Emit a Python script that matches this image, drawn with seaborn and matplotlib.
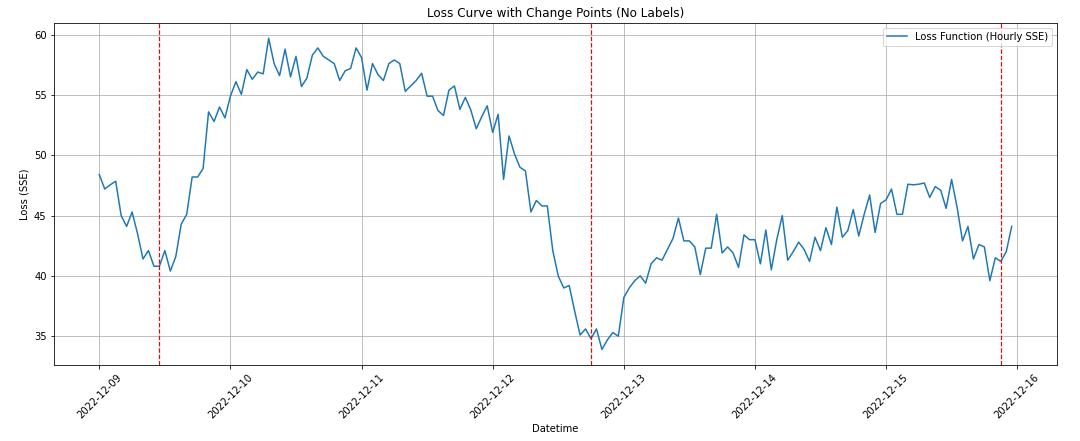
import pandas as pd
import matplotlib
matplotlib.use('Agg')
import matplotlib.pyplot as plt
import matplotlib.dates as mdates
import seaborn as sns

# Hourly loss values (2022-12-09 00:00 onward)
loss_values = [
    48.4, 47.2, 47.55, 47.85, 45.0, 44.1, 45.3, 43.5, 41.4, 42.1, 40.8, 40.8,
    42.1, 40.4, 41.6, 44.3, 45.1, 48.2, 48.2, 48.9, 53.6, 52.8, 54.0, 53.1,
    54.9, 56.1, 55.05, 57.1, 56.3, 56.9, 56.75, 59.7, 57.6, 56.6, 58.8, 56.5,
    58.2, 55.7, 56.4, 58.3, 58.9, 58.2, 57.9, 57.6, 56.2, 57.0, 57.2, 58.9,
    58.1, 55.4, 57.6, 56.7, 56.2, 57.6, 57.9, 57.6, 55.3, 55.75, 56.2, 56.8,
    54.9, 54.9, 53.7, 53.3, 55.4, 55.75, 53.8, 54.8, 53.75, 52.2, 53.2, 54.1,
    51.9, 53.4, 48.0, 51.6, 50.1, 49.0, 48.7, 45.3, 46.25, 45.8, 45.8, 42.1,
    40.0, 39.0, 39.2, 37.1, 35.1, 35.6, 34.8, 35.6, 33.9, 34.7, 35.3, 35.0,
    38.2, 39.0, 39.6, 40.0, 39.4, 41.0, 41.5, 41.3, 42.2, 43.1, 44.8, 42.9,
    42.9, 42.4, 40.1, 42.3, 42.3, 45.1, 41.9, 42.4, 41.9, 40.7, 43.4, 43.0,
    43.0, 41.0, 43.8, 40.5, 43.0, 45.0, 41.3, 42.0, 42.8, 42.2, 41.2, 43.2,
    42.1, 44.0, 42.6, 45.7, 43.2, 43.75, 45.5, 43.3, 45.1, 46.7, 43.6, 46.0,
    46.3, 47.2, 45.1, 45.1, 47.6, 47.55, 47.6, 47.7, 46.5, 47.4, 47.1, 45.6,
    48.0, 45.7, 42.9, 44.1, 41.4, 42.6, 42.4, 39.6, 41.5, 41.2, 42.0, 44.1,
]
start_time = '2022-12-09 00:00'
change_points = ['2022-12-09 11:00', '2022-12-12 18:00', '2022-12-15 21:00']

df = pd.DataFrame({
    'Datetime': pd.date_range(start_time, periods=len(loss_values), freq='h'),
    'Loss': loss_values,
})

fig, ax = plt.subplots(figsize=(15, 6.125), dpi=72)
sns.lineplot(data=df, x='Datetime', y='Loss', ax=ax, label='Loss Function (Hourly SSE)')

for cp in change_points:
    ax.axvline(pd.Timestamp(cp), color='red', linestyle='--', linewidth=1.2)

ax.set_title('Loss Curve with Change Points (No Labels)')
ax.set_xlabel('Datetime')
ax.set_ylabel('Loss (SSE)')
ax.xaxis.set_major_locator(mdates.DayLocator())
ax.xaxis.set_major_formatter(mdates.DateFormatter('%Y-%m-%d'))
plt.setp(ax.get_xticklabels(), rotation=45)
ax.grid(True)
ax.legend(loc='upper right')

plt.subplots_adjust(left=0.0497, right=0.979, top=0.9485, bottom=0.1723)
plt.savefig('out.png')
